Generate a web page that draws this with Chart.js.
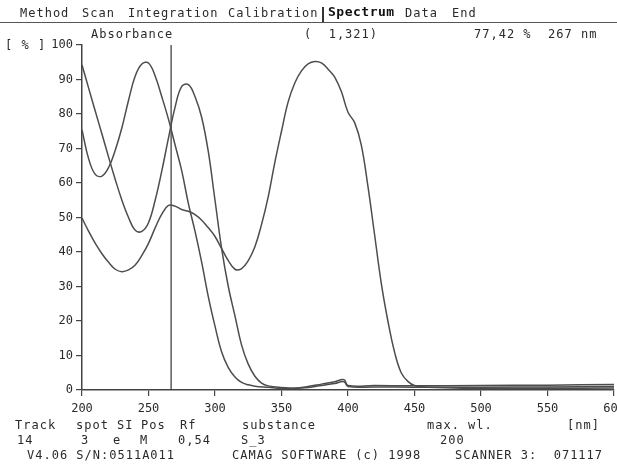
<!DOCTYPE html>
<html>
<head>
<meta charset="utf-8">
<script src="https://cdn.jsdelivr.net/npm/chart.js@4"></script>
<style>
  body { margin: 0; background: #fff; }
  #wrap { position: relative; width: 617px; height: 470px; }
  #wrap canvas { position: absolute; left: 0; top: 0; }
  .t { position: absolute; font-family: "DejaVu Sans Mono", monospace; font-size: 12px; letter-spacing: 1px; color: #2a2a2a; white-space: pre; line-height: 14px; }
  .menu { top: 6px; }
  .bold { font-weight: bold; font-size: 13px; letter-spacing: 0.5px; color: #111; }
  #rule { position: absolute; left: 0; top: 22px; width: 617px; height: 1px; background: #555; }
  #bar { position: absolute; left: 322px; top: 7px; width: 2px; height: 16px; background: #333; }
</style>
</head>
<body>
<div id="wrap">
  <canvas id="chart" width="617" height="470"></canvas>

  <div class="t menu" style="left:20px">Method</div>
  <div class="t menu" style="left:82px">Scan</div>
  <div class="t menu" style="left:128px">Integration</div>
  <div class="t menu" style="left:228px">Calibration</div>
  <div id="bar"></div>
  <div class="t menu bold" style="left:328px;top:5px">Spectrum</div>
  <div class="t menu" style="left:405px">Data</div>
  <div class="t menu" style="left:452px">End</div>
  <div id="rule"></div>

  <div class="t" style="left:91px;top:27px">Absorbance</div>
  <div class="t" style="left:304px;top:27px">(  1,321)</div>
  <div class="t" style="left:474px;top:27px">77,42 %  267 nm</div>
  <div class="t" style="left:5px;top:38px">[ % ]</div>

  <div class="t" style="left:15px;top:418px">Track</div>
  <div class="t" style="left:76px;top:418px">spot SI</div>
  <div class="t" style="left:141px;top:418px">Pos</div>
  <div class="t" style="left:180px;top:418px">Rf</div>
  <div class="t" style="left:242px;top:418px">substance</div>
  <div class="t" style="left:427px;top:418px">max. wl.</div>
  <div class="t" style="left:567px;top:418px">[nm]</div>

  <div class="t" style="left:17px;top:433px">14</div>
  <div class="t" style="left:81px;top:433px">3</div>
  <div class="t" style="left:113px;top:433px">e</div>
  <div class="t" style="left:140px;top:433px">M</div>
  <div class="t" style="left:178px;top:433px">0,54</div>
  <div class="t" style="left:241px;top:433px">S_3</div>
  <div class="t" style="left:440px;top:433px">200</div>

  <div class="t" style="left:27px;top:448px">V4.06 S/N:0511A011</div>
  <div class="t" style="left:232px;top:448px">CAMAG SOFTWARE (c) 1998</div>
  <div class="t" style="left:455px;top:448px">SCANNER 3:  071117</div>
</div>

<script>
// track 1: starts high, peak at ~278 nm
const wlA = [200,205,210,215,220,225,230,235,240,245,250,255,260,265,270,275,280,285,290,295,300,305,310,315,320,325,330,335,340,350,360,370,380,390,397,400,420,450,500,550,600];
const absA = [94.2,87.5,80.8,74.2,67.5,61,55,50,46.3,46,48.5,55,63.5,73,82,88,88.5,85,79,69,55,41,30,21.5,13,7.5,4,2,1.2,0.7,0.5,0.7,1.3,1.9,2.4,1.0,0.9,0.8,0.8,0.9,1.0];

// track 2: peak at ~248 nm
const wlB = [200,205,210,215,220,225,230,235,240,245,250,255,260,265,270,275,280,285,290,295,300,305,310,315,320,325,330,340,350,360,370,380,390,397,400,420,450,500,550,600];
const absB = [75.4,67,62.5,62,64.5,69.5,76,84,91,94.5,94.8,91,85,78.5,71,63.5,54,46,37,27,18.5,11,6.5,3.8,2.2,1.5,1.1,0.8,0.5,0.5,1.0,1.7,2.4,3.0,1.3,1.3,1.2,1.3,1.4,1.6];

// track 3: big band at ~376 nm
const wlC = [200,205,210,215,220,225,230,235,240,245,250,255,260,265,270,275,280,285,290,295,300,305,310,315,320,325,330,335,340,345,350,355,360,365,370,375,380,385,390,395,400,405,410,415,420,425,430,435,440,445,450,460,480,500,550,600];
const absC = [49.8,46,42.5,39.5,37,35,34.3,34.8,36.2,39,42.5,47,51,53.5,53.3,52.3,51.8,50.8,49.2,47,44.5,41,37.5,35,35.2,37.5,41.5,48,56,66,75,83.5,89,92.5,94.5,95.2,94.8,93,90.7,86.5,80.5,77.5,71,59,45,31,20,11,5,2.5,1.3,0.8,0.6,0.5,0.5,0.6];

// cursor position
const cursorNm = 267;
const cursorRange = [0, 100];

const xTicks = [200, 250, 300, 350, 400, 450, 500, 550, 600];
const yTicks = [0, 10, 20, 30, 40, 50, 60, 70, 80, 90, 100];

const toPoints = (xs, ys) => xs.map((x, i) => ({ x: x, y: ys[i] }));

const lineStyle = {
  borderColor: "#4d4d4d",
  borderWidth: 1.5,
  pointRadius: 0,
  fill: false,
  tension: 0.4
};

const font = { family: "DejaVu Sans Mono", size: 12 };

new Chart(document.getElementById("chart"), {
  type: "line",
  data: {
    datasets: [
      Object.assign({ data: toPoints(wlA, absA) }, lineStyle),
      Object.assign({ data: toPoints(wlB, absB) }, lineStyle),
      Object.assign({ data: toPoints(wlC, absC) }, lineStyle),
      { data: cursorRange.map(v => ({ x: cursorNm, y: v })), borderColor: "#333", borderWidth: 1.2, pointRadius: 0 }
    ]
  },
  options: {
    responsive: false,
    animation: false,
    layout: { padding: { left: 0, top: 45, right: 3, bottom: 0 } },
    plugins: { legend: { display: false }, tooltip: { enabled: false } },
    scales: {
      x: {
        type: "linear",
        min: 200,
        max: 600,
        afterBuildTicks: s => { s.ticks = xTicks.map(v => ({ value: v })); },
        afterFit: s => { s.height = 80; s.paddingLeft = 0; s.paddingRight = 0; },
        ticks: { font: font, color: "#2a2a2a", padding: 6, maxRotation: 0, autoSkip: false },
        grid: { drawOnChartArea: false, tickLength: 6, color: "#444", lineWidth: 1.2 },
        border: { color: "#444", width: 1.5 }
      },
      y: {
        min: 0,
        max: 100,
        afterBuildTicks: s => { s.ticks = yTicks.map(v => ({ value: v })); },
        afterFit: s => { s.width = 82; s.paddingTop = 0; s.paddingBottom = 0; },
        ticks: { font: font, color: "#2a2a2a", padding: 3 },
        grid: { drawOnChartArea: false, tickLength: 6, color: "#444", lineWidth: 1.2 },
        border: { color: "#444", width: 1.5 }
      }
    }
  }
});
</script>
</body>
</html>
